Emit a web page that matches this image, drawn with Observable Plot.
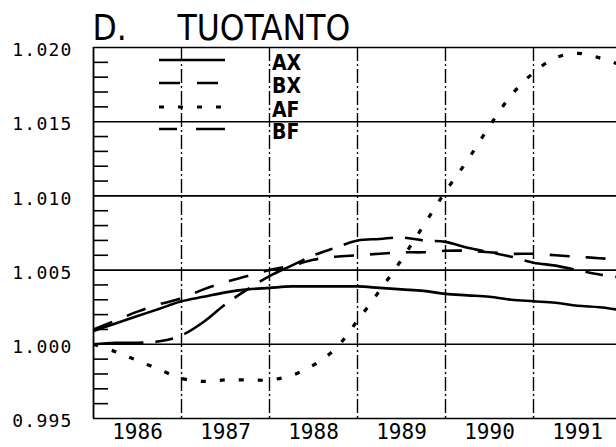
<!DOCTYPE html>
<html><head><meta charset="utf-8">
<script src="https://cdn.jsdelivr.net/npm/d3@7"></script>
<script src="https://cdn.jsdelivr.net/npm/@observablehq/plot@0.6"></script>
<style>
html,body{margin:0;padding:0;background:#fff;}
#chart{position:relative;width:616px;height:447px;overflow:hidden;}
#chart svg{position:absolute;left:0;top:0;}
g[aria-label="y-axis tick label"] text{letter-spacing:1.2px;}
</style></head><body><div id="chart"></div>
<script>
// ---- data ----
const quarters = [1986.00,1986.25,1986.50,1986.75,1987.00,1987.25,1987.50,1987.75,1988.00,1988.25,1988.50,1988.75,
                  1989.00,1989.25,1989.50,1989.75,1990.00,1990.25,1990.50,1990.75,1991.00,1991.25,1991.50,1991.75,1992.00];
const AX = [1.0009,1.0014,1.0019,1.0024,1.0029,1.0032,1.0035,1.0037,1.0038,1.0039,1.0039,1.0039,
            1.0039,1.0038,1.0037,1.0036,1.0034,1.0033,1.0032,1.0030,1.0029,1.0028,1.0026,1.0025,1.0023];
const BX = [1.0010,1.0016,1.0022,1.0027,1.0031,1.0037,1.0042,1.0046,1.0050,1.0053,1.0057,1.0059,
            1.0060,1.0061,1.0062,1.0062,1.0063,1.0063,1.0062,1.0061,1.0061,1.0060,1.0059,1.0058,1.0057];
const AF = [1.0000,0.9995,0.9989,0.9983,0.9977,0.9975,0.9976,0.9976,0.9976,0.9979,0.9986,0.9997,
            1.0016,1.0036,1.0057,1.0080,1.0103,1.0124,1.0147,1.0168,1.0183,1.0193,1.0196,1.0193,1.0188];
const BF = [1.0000,1.0001,1.0001,1.0002,1.0006,1.0015,1.0027,1.0037,1.0046,1.0053,1.0060,1.0065,
            1.0070,1.0071,1.0072,1.0070,1.0069,1.0065,1.0062,1.0059,1.0055,1.0053,1.0050,1.0047,1.0045];
const seriesNames = ["AX","BX","AF","BF"];
const yLabelTicks = [0.995,1.000,1.005,1.010,1.015,1.020];
const yMinorTicks = [0.996,0.997,0.998,0.999,1.001,1.002,1.003,1.004,1.006,1.007,1.008,1.009,
                     1.011,1.012,1.013,1.014,1.016,1.017,1.018,1.019];
const yearLabels = [1986,1987,1988,1989,1990,1991];
const yearBoundaries = [1987,1988,1989,1990,1991];
const titleParts = ["D.","TUOTANTO"];

// ---- styles ----
const values = {AX, BX, AF, BF};
const dash = {AX: null, BX: "20,16", AF: "5,14", BF: "50,12,18,12"};
const widths = {AX: 2.6, BX: 2.6, AF: 3.2, BF: 2.6};
const legendDash = {AX: null, BX: "21,17", AF: "5,14", BF: "18,19,30"};

const rows = seriesNames.flatMap(name => quarters.map((q, i) => ({series: name, x: q, y: values[name][i]})));

const lineMarks = seriesNames.map(name =>
  Plot.line(rows.filter(d => d.series === name), {
    x: "x", y: "y", stroke: "black", strokeWidth: widths[name], curve: "catmull-rom",
    strokeDasharray: dash[name] || undefined, strokeLinecap: "butt"
  })
);

const plot = Plot.plot({
  width: 616, height: 447,
  marginLeft: 93, marginRight: 0, marginTop: 47, marginBottom: 29,
  x: {domain: [1986, 1992], range: [93, 621]},
  y: {domain: [0.995, 1.020]},
  style: {fontFamily: "'DejaVu Sans Mono', monospace", background: "white", color: "black"},
  marks: [
    Plot.ruleY(yLabelTicks, {stroke: "black", strokeWidth: 1.6}),
    Plot.ruleX(yearBoundaries, {stroke: "black", strokeWidth: 1.4, strokeDasharray: "14,3,2,3"}),
    Plot.ruleX([1986], {stroke: "black", strokeWidth: 1.8}),
    Plot.axisY({ticks: yMinorTicks, tickSize: -15, fill: "none", strokeWidth: 1.6, label: null}),
    Plot.axisY({ticks: yLabelTicks, tickSize: 0, tickPadding: 21, tickFormat: d3.format(".3f"),
                fontSize: 18, dy: 3, label: null}),
    Plot.axisX({ticks: yearLabels.map(y => y + 0.5), tickSize: 0, tickPadding: 6,
                tickFormat: d => String(Math.floor(d)), fontSize: 21, label: null}),
    ...lineMarks,
    Plot.text([titleParts[0]], {text: d => d, frameAnchor: "top-left", dx: -1, dy: -19, textAnchor: "start",
               lineAnchor: "middle", fontSize: 35, fontFamily: "'Liberation Sans Narrow','DejaVu Sans Condensed',sans-serif"}),
    Plot.text([titleParts[1]], {text: d => d, frameAnchor: "top-left", dx: 84, dy: -19, textAnchor: "start",
               lineAnchor: "middle", fontSize: 35, fontFamily: "'Liberation Sans Narrow','DejaVu Sans Condensed',sans-serif"})
  ]
});
const chart = document.getElementById("chart");
chart.appendChild(plot);

// ---- legend overlay ----
const leg = d3.create("svg").attr("width", 616).attr("height", 447).style("pointer-events", "none");
const legendY = [60, 83, 107, 129];
seriesNames.forEach((name, i) => {
  leg.append("line").attr("x1", 159).attr("x2", 225).attr("y1", legendY[i]).attr("y2", legendY[i])
    .attr("stroke", "black").attr("stroke-width", widths[name])
    .attr("stroke-dasharray", legendDash[name] || null);
  leg.append("text").attr("x", 272).attr("y", legendY[i] + 10).text(name)
    .attr("font-family", "'Liberation Sans Narrow','DejaVu Sans Condensed',sans-serif")
    .attr("font-weight", "bold").attr("font-size", 21);
});
chart.appendChild(leg.node());
</script></body></html>
